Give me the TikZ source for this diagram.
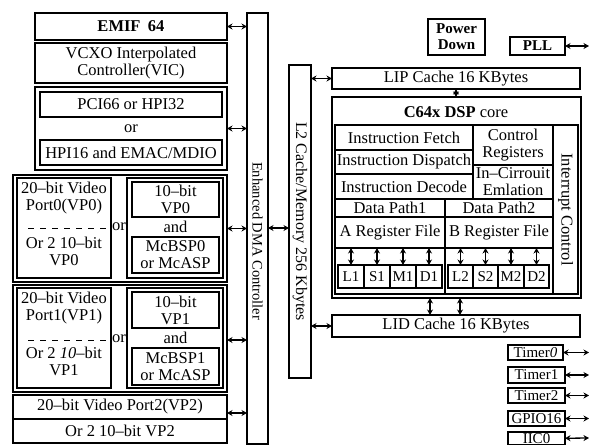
\documentclass[tikz,border=0pt]{standalone}
\usepackage{fontspec}
\setmainfont{Liberation Serif}
\usetikzlibrary{arrows.meta}
\newcommand\myfs{\fontsize{16.5}{17}\selectfont}
\newcommand\myfss{\fontsize{15}{16}\selectfont}
\newcommand\myfsd{\fontsize{14.5}{15}\selectfont}
% box from (x1,y1) to (x2,y2), y downwards
\newcommand\Bx[6][]{\node[bx,#1,minimum width={#4-#2},minimum height={#5-#3}] (#6) at ({(#2+#4)/2},{(#3+#5)/2})}
\begin{document}
\begin{tikzpicture}[x=1pt,y=-1pt,
  bx/.style={draw, line width=1.1pt, inner sep=0pt, outer sep=0pt, align=center, font=\myfs},
  tx/.style={inner sep=0pt, outer sep=0pt, align=center, font=\myfs},
  arr/.style={{Stealth[length=5.5pt,width=6pt]}-{Stealth[length=5.5pt,width=6pt]}, line width=1.3pt},
  divider/.style={line width=0.9pt, dash pattern=on 6pt off 6pt}]
\useasboundingbox (0,0) rectangle (589,445);
\clip (0,0) rectangle (589,445);

% ---------- left column ----------
\Bx[font=\myfs\bfseries]{35}{13}{227}{40}{emif}{EMIF\hspace{0.45em}64};
\Bx{35}{43}{227}{83}{vcxo}{VCXO Interpolated\\Controller(VIC)};
\Bx{35}{87}{227}{170}{pci}{};
\Bx{40}{92}{222}{117}{pci66}{PCI66 or HPI32};
\node[tx] (pcior) at (131,129) {or};
\Bx{40}{140}{222}{165}{hpi}{HPI16 and EMAC/MDIO};

% VP0
\Bx{13}{175}{227}{282}{vp0}{};
\Bx{17}{178}{111}{278}{vp0a}{};
\node[tx] (vp0at) at (64,198) {20--bit Video\\Port0(VP0)};
\node[tx] (vp0ab) at (64,251) {Or 2 10--bit\\VP0};
\draw[divider] (28,228) -- (vp0a.east |- 0,228);
\node[tx] (vp0or) at (119,227) {or};
\Bx{127}{178}{223}{278}{vp0g}{};
\Bx{132}{182}{219}{217}{vp0c}{10--bit\\VP0};
\node[tx] (vp0and) at (175.5,227) {and};
\Bx{132}{237}{219}{273}{vp0d}{McBSP0\\or McASP};

% VP1
\Bx{13}{285}{227}{392}{vp1}{};
\Bx{17}{288}{111}{388}{vp1a}{};
\node[tx] (vp1at) at (64,308) {20--bit Video\\Port1(VP1)};
\node[tx] (vp1ab) at (64,361) {Or 2 \textit{10}--bit\\VP1};
\draw[divider] (28,340) -- (vp1a.east |- 0,340);
\node[tx] (vp1or) at (119,339) {or};
\Bx{127}{288}{223}{388}{vp1g}{};
\Bx{132}{292}{219}{328}{vp1c}{10--bit\\VP1};
\node[tx] (vp1and) at (175.5,338) {and};
\Bx{132}{348}{219}{385}{vp1d}{McBSP1\\or McASP};

% VP2
\Bx{13}{395}{227}{419}{vp2}{20--bit Video Port2(VP2)};
\Bx{13}{419}{227}{443}{vp2b}{Or 2 10--bit VP2};

% ---------- DMA and L2 ----------
\Bx{247}{13}{268}{444}{dma}{};
\node[tx, rotate=-90, font=\myfsd] (dmat) at (257.5,241) {Enhanced DMA Controller};
\Bx{289}{65}{311}{378}{l2}{};
\node[tx, rotate=-90, font=\fontsize{16}{17}\selectfont] (l2t) at (300,221.5) {L2 Cache/Memory 256 Kbytes};

% ---------- right side ----------
\Bx[font=\myfss\bfseries]{428}{19}{485}{55}{pd}{Power\\Down};
\Bx[font=\myfss\bfseries]{510}{37}{565}{55}{pll}{PLL};
\coordinate (pllend) at (589,46);

\Bx{332}{68}{580}{89}{lip}{LIP Cache 16 KBytes};
\Bx{332}{97}{581}{298}{core}{};
\node[tx] (coret) at (456,112) {\textbf{C64x DSP} core};
\Bx{335}{125}{578}{294}{inner}{};

\Bx{335}{125}{473}{150}{ifetch}{Instruction Fetch};
\Bx{335}{150}{473}{174}{idisp}{Instruction Dispatch};
\Bx{335}{174}{473}{199}{idec}{Instruction Decode};
\Bx{473}{125}{553}{165}{creg}{Control\\Registers};
\Bx{473}{165}{553}{199}{ice}{In--Cirrouit\\Emlation};
\Bx{553}{125}{578}{294}{intc}{};
\node[tx, rotate=-90] (intct) at (565.5,209.5) {Interrupt Control};

\Bx{335}{199}{445}{217}{dp1}{Data Path1};
\Bx{445}{199}{553}{217}{dp2}{Data Path2};
\Bx{335}{217}{445}{248}{ra}{A Register File};
\Bx{445}{217}{553}{248}{rb}{B Register File};
\Bx{335}{248}{445}{294}{ua}{};
\Bx{445}{248}{553}{294}{ub}{};

\Bx[font=\myfss]{338}{265}{364}{288}{l1}{L1};
\Bx[font=\myfss]{364}{265}{390}{288}{s1}{S1};
\Bx[font=\myfss]{390}{265}{416}{288}{m1}{M1};
\Bx[font=\myfss]{416}{265}{442}{288}{d1}{D1};
\Bx[font=\myfss]{448}{265}{473}{288}{l2u}{L2};
\Bx[font=\myfss]{473}{265}{498}{288}{s2}{S2};
\Bx[font=\myfss]{498}{265}{524}{288}{m2}{M2};
\Bx[font=\myfss]{524}{265}{549}{288}{d2}{D2};

\Bx{332}{315}{580}{337}{lid}{LID Cache 16 KBytes};

\Bx[font=\myfss]{508}{345}{563}{360}{t0}{Timer\textit{0}};
\Bx[font=\myfss]{508}{367}{565}{383}{t1}{Timer1};
\Bx[font=\myfss]{508}{388}{565}{403}{t2}{Timer2};
\Bx[font=\myfss]{508}{411}{565}{426}{gpio}{GPIO16};
\Bx[font=\myfss]{508}{432}{565}{444.5}{iic}{IIC0};
\coordinate (t0e) at (589,352.5);
\coordinate (t1e) at (589,375);
\coordinate (t2e) at (589,395.5);
\coordinate (gpioe) at (589,418.5);
\coordinate (iice) at (589,438);

% ---------- connectors ----------
\draw[arr] (emif.east) -- (emif.east -| dma.west);
\draw[arr] (pci.east) -- (pci.east -| dma.west);
\draw[arr] (vp0.east) -- (vp0.east -| dma.west);
\draw[arr] (vp1.east |- 0,340) -- (dma.west |- 0,340);
\draw[arr] (vp2.east |- 0,413) -- (dma.west |- 0,413);
\draw[arr] (dma.east |- 0,228) -- (l2.west |- 0,228);
\draw[arr] (l2.east |- lip.west) -- (lip.west);
\draw[arr] (l2.east |- lid.west) -- (lid.west);
\draw[arr] (lip.south) -- (lip.south |- core.north);
\draw[arr] (core.south -| 430,0) -- (lid.north -| 430,0);
\draw[arr] (core.south -| 460,0) -- (lid.north -| 460,0);
\foreach \u in {l1,s1,m1,d1}{\draw[arr] (\u.north |- ra.south) -- (\u.north);}
\foreach \u in {l2u,s2,m2,d2}{\draw[arr] (\u.north |- rb.south) -- (\u.north);}
\draw[arr] (pll.east) -- (pllend);
\draw[arr] (t0.east) -- (t0e);
\draw[arr] (t1.east) -- (t1e);
\draw[arr] (t2.east) -- (t2e);
\draw[arr] (gpio.east) -- (gpioe);
\draw[arr] (iic.east) -- (iice);
\end{tikzpicture}
\end{document}
